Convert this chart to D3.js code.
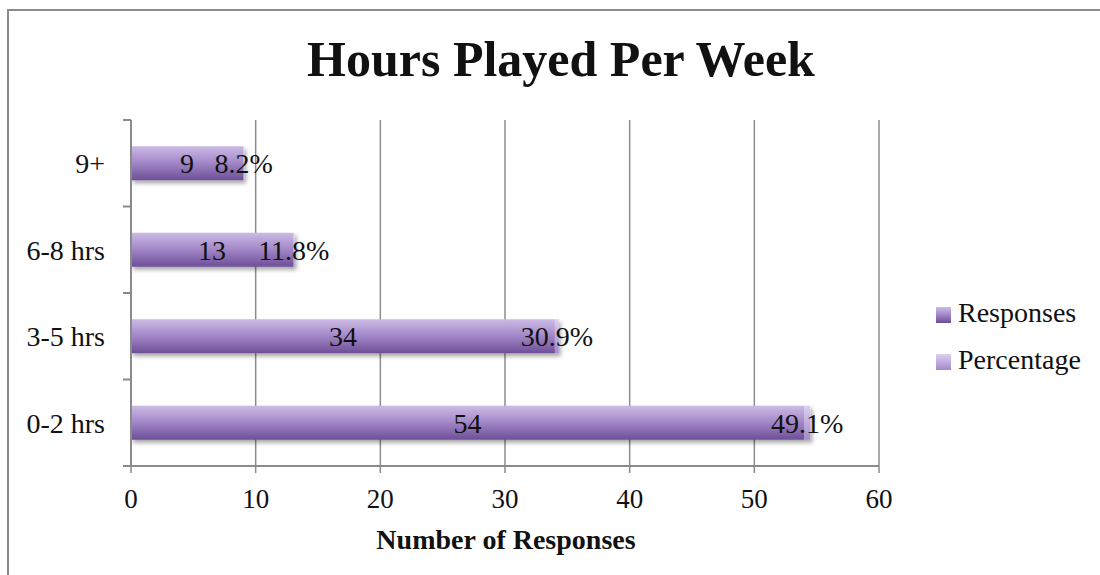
<!DOCTYPE html>
<html>
<head>
<meta charset="utf-8">
<script src="https://cdn.jsdelivr.net/npm/d3@7"></script>
<style>
  body { margin: 0; background: #fff; }
  svg { display: block; }
  text { font-family: "Liberation Serif", "DejaVu Serif", serif; fill: #111; }
</style>
</head>
<body>
<div id="chart"></div>
<script>
let w = 1100,
    h = 575;

// chart data
let categories = ["9+", "6-8 hrs", "3-5 hrs", "0-2 hrs"];
let responses = [9, 13, 34, 54];
let percentage = [0.082, 0.118, 0.309, 0.491];
let xTicks = [0, 10, 20, 30, 40, 50, 60];
let seriesNames = ["Responses", "Percentage"];

let plot = { left: 131, right: 879, top: 120, bottom: 466 };

let svg = d3.select("#chart")
            .append("svg")
            .attr("width", w)
            .attr("height", h);

let defs = svg.append("defs");

// gradients for both series, light on top, dark at the bottom
let grads = [
  { id: "gResp", stops: ["#cbbbe4", "#a68bcb", "#6d4e97"] },
  { id: "gPct", stops: ["#dcd0f0", "#c3b1e0", "#a28ac9"] }
];
grads.forEach(g => {
  let lg = defs.append("linearGradient")
               .attr("id", g.id)
               .attr("x1", 0).attr("y1", 0)
               .attr("x2", 0).attr("y2", 1);
  lg.append("stop").attr("offset", "0%").attr("stop-color", g.stops[0]);
  lg.append("stop").attr("offset", "45%").attr("stop-color", g.stops[1]);
  lg.append("stop").attr("offset", "100%").attr("stop-color", g.stops[2]);
});

let shadow = defs.append("filter")
                 .attr("id", "shadow")
                 .attr("x", "-5%").attr("y", "-20%")
                 .attr("width", "110%").attr("height", "160%");
shadow.append("feDropShadow")
      .attr("dx", 2).attr("dy", 3)
      .attr("stdDeviation", 2)
      .attr("flood-color", "#000")
      .attr("flood-opacity", 0.35);

// outer chart border (left and top edges visible)
svg.append("path")
   .attr("d", "M8,575 L8,10 L1100,10")
   .attr("fill", "none")
   .attr("stroke", "#8a8a8a")
   .attr("stroke-width", 2);

// title
svg.append("text")
   .attr("x", 561)
   .attr("y", 76)
   .attr("text-anchor", "middle")
   .style("font-size", "50px")
   .style("font-weight", "bold")
   .text("Hours Played Per Week");

let x = d3.scaleLinear()
          .domain([0, 60])
          .range([plot.left, plot.right]);

let y = d3.scaleBand()
          .domain(categories)
          .range([plot.top, plot.bottom])
          .paddingInner(0.607)
          .paddingOuter(0.3035);

let step = y.step();

// vertical gridlines
svg.selectAll(".grid")
   .data(xTicks.slice(1))
   .enter()
   .append("line")
   .attr("class", "grid")
   .attr("x1", d => x(d)).attr("x2", d => x(d))
   .attr("y1", plot.top).attr("y2", plot.bottom)
   .attr("stroke", "#8c8c8c")
   .attr("stroke-width", 1.5);

// bars, stacked: responses then percentage
let rows = categories.map((c, i) => ({ cat: c, resp: responses[i], pct: percentage[i] }));

let barG = svg.append("g").attr("filter", "url(#shadow)");

barG.selectAll(".resp")
    .data(rows)
    .enter()
    .append("rect")
    .attr("class", "resp")
    .attr("x", x(0))
    .attr("y", d => y(d.cat))
    .attr("width", d => x(d.resp) - x(0))
    .attr("height", y.bandwidth())
    .attr("fill", "url(#gResp)");

barG.selectAll(".pct")
    .data(rows)
    .enter()
    .append("rect")
    .attr("class", "pct")
    .attr("x", d => x(d.resp))
    .attr("y", d => y(d.cat))
    .attr("width", d => x(d.resp + d.pct) - x(d.resp))
    .attr("height", y.bandwidth())
    .attr("fill", "url(#gPct)");

// axis lines
svg.append("line")
   .attr("x1", plot.left).attr("x2", plot.left)
   .attr("y1", plot.top).attr("y2", plot.bottom)
   .attr("stroke", "#8a8a8a").attr("stroke-width", 2);

svg.append("line")
   .attr("x1", plot.left - 8).attr("x2", plot.right)
   .attr("y1", plot.bottom).attr("y2", plot.bottom)
   .attr("stroke", "#8a8a8a").attr("stroke-width", 2);

// y ticks at category boundaries
let bounds = categories.map(c => y(c) - step * y.paddingInner() / 2);
svg.selectAll(".ytick")
   .data(bounds)
   .enter()
   .append("line")
   .attr("x1", plot.left - 8).attr("x2", plot.left)
   .attr("y1", d => d).attr("y2", d => d)
   .attr("stroke", "#8a8a8a").attr("stroke-width", 2);

// x ticks
svg.selectAll(".xtick")
   .data(xTicks)
   .enter()
   .append("line")
   .attr("x1", d => x(d)).attr("x2", d => x(d))
   .attr("y1", plot.bottom).attr("y2", plot.bottom + 7)
   .attr("stroke", "#8a8a8a").attr("stroke-width", 1.5);

svg.selectAll(".xlabel")
   .data(xTicks)
   .enter()
   .append("text")
   .attr("x", d => x(d))
   .attr("y", 508)
   .attr("text-anchor", "middle")
   .style("font-size", "27px")
   .text(d => d);

// category labels
svg.selectAll(".ylabel")
   .data(categories)
   .enter()
   .append("text")
   .attr("x", 105)
   .attr("y", d => y(d) + y.bandwidth() / 2 + 10)
   .attr("text-anchor", "end")
   .style("font-size", "28px")
   .text(d => d);

// data labels
svg.selectAll(".respLabel")
   .data(rows)
   .enter()
   .append("text")
   .attr("x", d => x(d.resp / 2))
   .attr("y", d => y(d.cat) + y.bandwidth() / 2 + 10)
   .attr("text-anchor", "middle")
   .style("font-size", "28px")
   .text(d => d.resp);

svg.selectAll(".pctLabel")
   .data(rows)
   .enter()
   .append("text")
   .attr("x", d => x(d.resp + d.pct / 2))
   .attr("y", d => y(d.cat) + y.bandwidth() / 2 + 10)
   .attr("text-anchor", "middle")
   .style("font-size", "28px")
   .text(d => d3.format(".1%")(d.pct));

// x axis title
svg.append("text")
   .attr("x", 506)
   .attr("y", 549)
   .attr("text-anchor", "middle")
   .style("font-size", "28px")
   .style("font-weight", "bold")
   .text("Number of Responses");

// legend
let legend = svg.selectAll(".legend")
                .data(seriesNames)
                .enter()
                .append("g")
                .attr("class", "legend")
                .attr("transform", (d, i) => "translate(936," + (307 + i * 47) + ")");

legend.append("rect")
      .attr("width", 15)
      .attr("height", 16)
      .attr("fill", (d, i) => i === 0 ? "url(#gResp)" : "url(#gPct)");

legend.append("text")
      .attr("x", 22)
      .attr("y", 15)
      .style("font-size", "28px")
      .text(d => d);
</script>
</body>
</html>
